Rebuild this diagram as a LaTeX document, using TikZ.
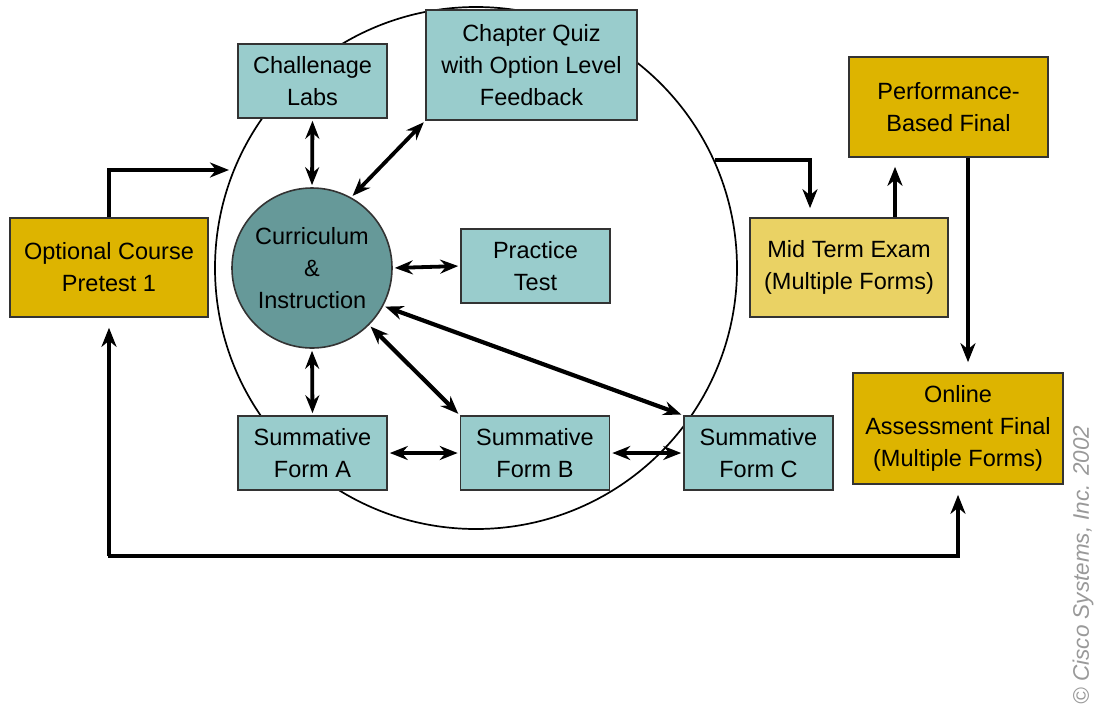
\documentclass[tikz,border=0pt]{standalone}
\usepackage{fontspec}
\setmainfont{Liberation Sans}
\usetikzlibrary{arrows.meta}
\definecolor{tealbox}{HTML}{99CCCC}
\definecolor{tealcirc}{HTML}{669999}
\definecolor{goldbox}{HTML}{DDB400}
\definecolor{lightgold}{HTML}{EAD264}
\definecolor{edgecol}{HTML}{333333}
\begin{document}
\begin{tikzpicture}[x=1pt,y=-1pt,
  box/.style={draw=edgecol, line width=1.6pt, align=center, inner sep=0pt,
              font=\fontsize{23.5}{32}\selectfont},
  tbox/.style={box, fill=tealbox, minimum width=149pt, minimum height=74pt},
  gbox/.style={box, fill=goldbox},
  tip/.style={Stealth[length=19pt,width=15pt,inset=6pt]},
  conn/.style={line width=4.2pt, -{Stealth[length=19pt,width=15pt,inset=6pt]}},
  dconn/.style={line width=3.8pt, {Stealth[length=18pt,width=14pt,inset=6pt]}-{Stealth[length=18pt,width=14pt,inset=6pt]},
                shorten <=2pt, shorten >=2pt}]
\fill[white] (0,0) rectangle (1094,721);
\useasboundingbox (0,0) rectangle (1094,721);
% big cycle circle
\draw[line width=1.7pt] (476,268) circle (261pt);
\coordinate (ein) at (229,170);
\coordinate (eout) at (715,160);
\coordinate (bottomleft) at (108,556);
% nodes
\node[gbox, minimum width=198pt, minimum height=99pt] (pre) at (109,267.5) {Optional Course\\Pretest 1};
\node[tbox] (labs) at (312.5,81) {Challenage\\Labs};
\node[tbox, minimum width=211pt, minimum height=110pt] (quiz) at (531.5,65) {Chapter Quiz\\with Option Level\\Feedback};
\node[circle, draw=edgecol, line width=1.6pt, fill=tealcirc, minimum size=160pt, inner sep=0pt,
      align=center, font=\fontsize{23.5}{32}\selectfont] (cur) at (312,268) {Curriculum\\\&\\Instruction};
\node[tbox] (prac) at (535.5,266) {Practice\\Test};
\node[tbox] (forma) at (312.5,453) {Summative\\Form A};
\node[tbox] (formb) at (535,453) {Summative\\Form B};
\node[tbox] (formc) at (758.5,453) {Summative\\Form C};
\node[box, fill=lightgold, minimum width=198pt, minimum height=99pt] (mid) at (849,267.5) {Mid Term Exam\\(Multiple Forms)};
\node[gbox, minimum width=199pt, minimum height=100pt] (perf) at (948.5,107) {Performance-\\Based Final};
\node[gbox, minimum width=210pt, minimum height=111pt] (online) at (958,428.5) {Online\\Assessment Final\\(Multiple Forms)};
\node[rotate=90, text=black!40, font=\itshape\fontsize{22.5}{26}\selectfont] (copy) at (1083,565) {© Cisco Systems, Inc. 2002};
% outer connectors
\draw[conn] (pre.north) |- (ein);
\draw[conn, shorten >=9pt] (eout) -| ([xshift=-39pt]mid.north);
\draw[conn, shorten >=9pt] ([xshift=46pt]mid.north) -- ([xshift=46pt]mid.north |- perf.south);
\draw[conn, shorten >=10pt] ([xshift=19.5pt]perf.south) -- ([xshift=19.5pt]perf.south |- online.north);
\draw[line width=4.2pt, {Stealth[length=19pt,width=15pt,inset=6pt]}-{Stealth[length=19pt,width=15pt,inset=6pt]},
      shorten <=10pt, shorten >=10pt] (pre.south) |- (bottomleft) -| (online.south);
% inner connectors
\draw[dconn] (labs.south) -- (cur.north);
\draw[dconn] (cur.61) -- (quiz.south west);
\draw[dconn] (cur.east) -- (prac.west);
\draw[dconn, line width=4.2pt] (cur.-28) -- (formc.north west);
\draw[dconn, line width=4.2pt] (cur.-45) -- (formb.north west);
\draw[dconn] (cur.south) -- (forma.north);
\draw[dconn] (forma.east) -- (formb.west);
\draw[dconn] (formb.east) -- (formc.west);
\end{tikzpicture}
\end{document}
